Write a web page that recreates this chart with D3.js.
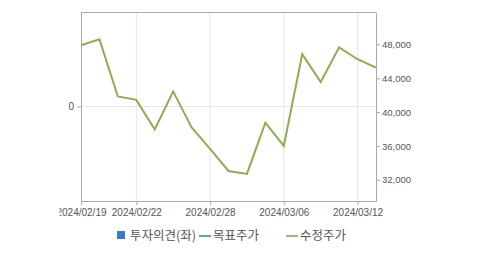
<!DOCTYPE html>
<html>
<head>
<meta charset="utf-8">
<script src="https://cdn.jsdelivr.net/npm/d3@7"></script>
<style>
  body { margin: 0; background: #fff; }
  text { font-family: "Liberation Sans", Arial, sans-serif; fill: #555; }
  .legend text { font-family: "Noto Sans CJK KR", sans-serif; font-size: 12.5px; fill: #555; }
</style>
</head>
<body>
<svg id="chart" width="479" height="255"></svg>
<script>
// trading days and adjusted price (수정주가)
const dates = ["2024/02/19", "2024/02/20", "2024/02/21", "2024/02/22", "2024/02/23",
    "2024/02/26", "2024/02/27", "2024/02/28", "2024/02/29", "2024/03/04", "2024/03/05",
    "2024/03/06", "2024/03/07", "2024/03/08", "2024/03/11", "2024/03/12", "2024/03/13"];
const prices = [47900, 48600, 41850, 41450, 37950, 42450, 38200, 35650, 33050, 32700,
    38750, 36000, 46850, 43550, 47650, 46250, 45250];
const dateTicks = ["2024/02/19", "2024/02/22", "2024/02/28", "2024/03/06", "2024/03/12"];
const priceTicks = [32000, 36000, 40000, 44000, 48000];
const legendItems = ["투자의견(좌)", "목표주가", "수정주가"];

const svg = d3.select("#chart");
const margin = {left: 81, top: 12, right: 376, bottom: 201};

// clip on the left like the original widget
svg.append("defs").append("clipPath").attr("id", "clip")
    .append("rect").attr("x", 59.5).attr("y", 0).attr("width", 420).attr("height", 255);
const g = svg.append("g").attr("clip-path", "url(#clip)");

const x = d3.scalePoint().domain(dates).range([margin.left, margin.right]);
const yRight = d3.scaleLinear().domain([29500, 51830]).range([margin.bottom, margin.top]);
const yLeft = d3.scaleLinear().domain([-1, 1]).range([margin.bottom, margin.top]);

// vertical grid
g.append("g").selectAll("line")
    .data(dateTicks.slice(1))
    .enter().append("line")
    .attr("x1", d => x(d)).attr("x2", d => x(d))
    .attr("y1", margin.top).attr("y2", margin.bottom)
    .attr("stroke", "#e6e6e6");

// horizontal grid at 0
g.append("line")
    .attr("x1", margin.left).attr("x2", margin.right)
    .attr("y1", yLeft(0)).attr("y2", yLeft(0))
    .attr("stroke", "#e6e6e6");

// top border
g.append("line")
    .attr("x1", margin.left).attr("x2", margin.right)
    .attr("y1", margin.top + 0.5).attr("y2", margin.top + 0.5)
    .attr("stroke", "#aaa");

// bottom axis
const xAxis = g.append("g")
    .attr("transform", `translate(0,${margin.bottom})`)
    .call(d3.axisBottom(x).tickValues(dateTicks).tickSize(4).tickPadding(4).tickSizeOuter(0));
xAxis.selectAll("text").style("font-size", "10px").attr("fill", "#555");

// left axis
const leftAxis = g.append("g")
    .attr("transform", `translate(${margin.left},0)`)
    .call(d3.axisLeft(yLeft).tickValues([0]).tickFormat(d3.format("d")).tickSize(4).tickPadding(3).tickSizeOuter(0));
leftAxis.selectAll("text").style("font-size", "10px").attr("fill", "#555");

// right axis
const rightAxis = g.append("g")
    .attr("transform", `translate(${margin.right},0)`)
    .call(d3.axisRight(yRight).tickValues(priceTicks).tickFormat(d3.format(",")).tickSize(4).tickPadding(2).tickSizeOuter(0));
rightAxis.selectAll("text").style("font-size", "9.5px").attr("fill", "#555");

g.selectAll(".domain, .tick line").attr("stroke", "#aaa");

// price line
const line = d3.line()
    .x((d, i) => x(dates[i]))
    .y(d => yRight(d));

g.append("path")
    .datum(prices)
    .attr("d", line)
    .attr("fill", "none")
    .attr("stroke", "#8fad4f")
    .attr("stroke-width", 2);

// legend
const legend = svg.append("g").attr("class", "legend");
legend.append("rect").attr("x", 117).attr("y", 231).attr("width", 8).attr("height", 8).attr("fill", "#3a78d8");
legend.append("text").attr("x", 130).attr("y", 240).text(legendItems[0]);
legend.append("line").attr("x1", 199).attr("x2", 211).attr("y1", 236).attr("y2", 236)
    .attr("stroke", "#40b0c0").attr("stroke-width", 2);
legend.append("text").attr("x", 213).attr("y", 240).text(legendItems[1]);
legend.append("line").attr("x1", 286).attr("x2", 298).attr("y1", 236).attr("y2", 236)
    .attr("stroke", "#a6b86a").attr("stroke-width", 2);
legend.append("text").attr("x", 300).attr("y", 240).text(legendItems[2]);
</script>
</body>
</html>
